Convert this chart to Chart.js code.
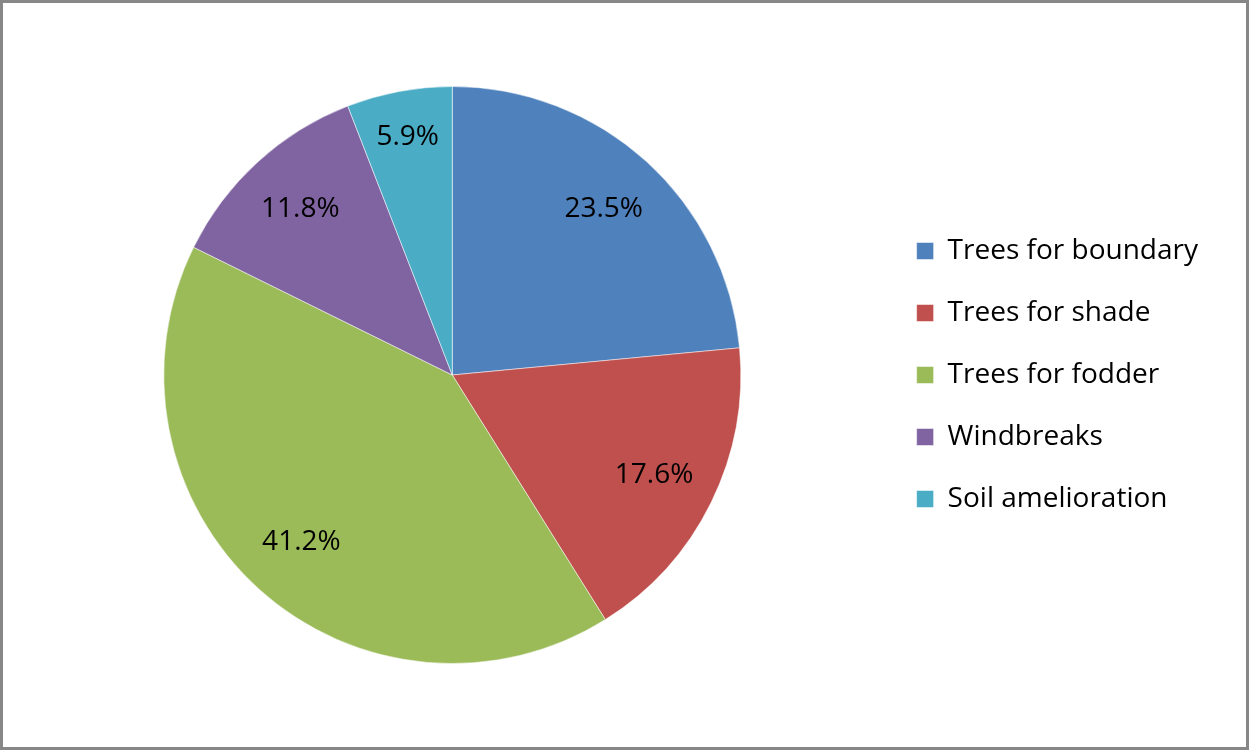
<!DOCTYPE html>
<html>
<head>
<meta charset="utf-8">
<script src="https://cdn.jsdelivr.net/npm/chart.js@4.4.0/dist/chart.umd.min.js"></script>
<style>
    html, body { margin: 0; padding: 0; background: #fff; }
    #box {
        width: 1249px; height: 750px; box-sizing: border-box;
        border: 3px solid #878787; background: #fff; position: relative;
    }
    #box canvas { display: block; }
</style>
</head>
<body>
<div id="box" style="width:1249px; height:750px">
    <canvas id="myChart" width="1243" height="744"></canvas>
</div>
<script>
const categories = ['Trees for boundary', 'Trees for shade', 'Trees for fodder', 'Windbreaks', 'Soil amelioration'];
const shares = [23.5, 17.6, 41.2, 11.8, 5.9];
const sliceColors = ['#4F81BD', '#C0504D', '#9BBB59', '#8064A2', '#4BACC6'];

const fontFamily = '"Open Sans", Lato, sans-serif';

// percentage labels inside each slice
const sliceLabels = {
    id: 'sliceLabels',
    afterDatasetsDraw(chart) {
        const ctx = chart.ctx;
        const meta = chart.getDatasetMeta(0);
        ctx.save();
        ctx.font = '28px ' + fontFamily;
        ctx.fillStyle = '#000';
        ctx.textAlign = 'center';
        ctx.textBaseline = 'middle';
        meta.data.forEach((arc, i) => {
            const mid = (arc.startAngle + arc.endAngle) / 2;
            const r = arc.outerRadius * (shares[i] < 8 ? 0.84 : 0.78);
            const x = arc.x + Math.cos(mid) * r;
            const y = arc.y + Math.sin(mid) * r;
            ctx.fillText(shares[i].toFixed(1) + '%', x, y);
        });
        ctx.restore();
    }
};

const data = {
    labels: categories,
    datasets: [{
        data: shares,
        backgroundColor: sliceColors,
        borderColor: 'rgba(255,255,255,0.5)',
        borderWidth: 1
    }]
};

const config = {
    type: 'pie',
    data: data,
    options: {
        responsive: false,
        animation: false,
        layout: { padding: { left: 19, right: 38, top: 83, bottom: 83 } },
        plugins: {
            legend: {
                position: 'right',
                labels: {
                    boxWidth: 17,
                    boxHeight: 17,
                    padding: 34,
                    color: '#000',
                    font: { family: fontFamily, size: 28 }
                }
            },
            tooltip: { enabled: false }
        }
    },
    plugins: [sliceLabels]
};

const myChart = new Chart(document.getElementById('myChart'), config);
</script>
</body>
</html>
